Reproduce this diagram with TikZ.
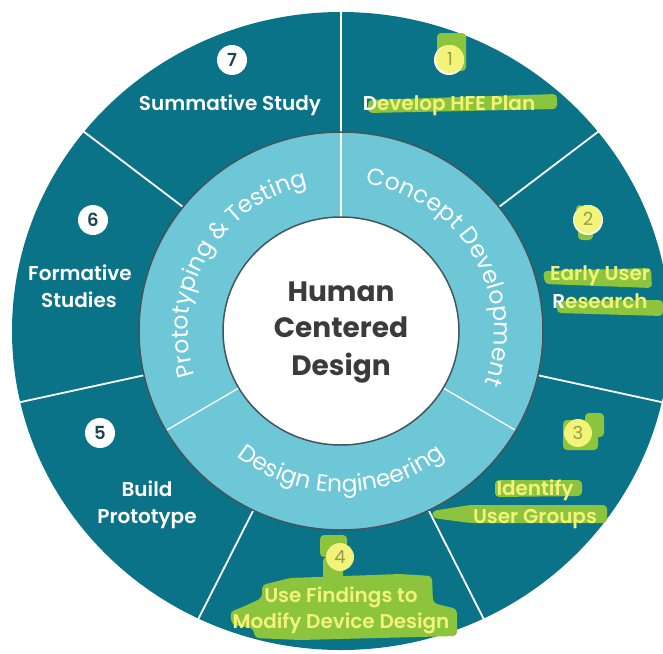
\documentclass[tikz,border=0pt]{standalone}
\usepackage{fontspec}
\usetikzlibrary{decorations.text}
\setmainfont{Poppins}
\IfFontExistsTF{Poppins SemiBold}
  {\newfontfamily\lblfont{Poppins SemiBold}}
  {\newfontfamily\lblfontfb{Poppins}\newcommand\lblfont{\lblfontfb\bfseries}}
\newfontfamily\ringfont{Poppins}[LetterSpace=12]
\newfontfamily\hubfont{Poppins}
% word gap used in the curved phase names
\newcommand\ringgap{{\kern6pt}}

\definecolor{ringdark}{HTML}{0B7387}
\definecolor{ringlight}{HTML}{6DC7D6}
\definecolor{rimgray}{HTML}{44555B}
\definecolor{hubtext}{HTML}{3B3B3B}
\definecolor{hlgreen}{HTML}{8CC43E}
\definecolor{hlyellow}{HTML}{F3F37A}
\definecolor{numdark}{HTML}{1E4450}
\definecolor{numolive}{HTML}{8E9F46}

\begin{document}
\begin{tikzpicture}[x=1pt,y=1pt,
  numdot/.style={circle, fill=white, minimum size=30pt, inner sep=0pt,
    text=numdark, font=\lblfont\fontsize{18}{18}\selectfont},
  hlnum/.style={numdot, fill=hlyellow, minimum size=28pt, text=numolive,
    font=\hubfont\fontsize{18}{18}\selectfont},
  lbl/.style={anchor=base, inner sep=0pt, text=white,
    font=\lblfont\fontsize{20}{20}\selectfont},
  hllbl/.style={lbl, text=hlyellow},
  hub/.style={anchor=base, inner sep=0pt, text=hubtext,
    font=\hubfont\bfseries\fontsize{28}{28}\selectfont},
  marker/.style={fill=hlgreen, rounded corners=4pt},
  ringtext/.style={decorate, decoration={text along path, text align=center,
    text={|\ringfont\fontsize{23.5}{23.5}\selectfont\color{white}|#1}}}
]
\useasboundingbox (0,0) rectangle (663,-653);
\clip (0,0) rectangle (663,-653);

% ---- wheel ----
\begin{scope}[shift={(341,-331)}]
  \fill[ringdark] (0,0) ellipse[x radius=329, y radius=319];
  % seven step sectors
  \foreach \a in {90,38.571,-12.857,-64.286,-115.714,-167.143,-218.571}
    \draw[white, line width=1.8pt] (\a:200 and 197) -- (\a:345 and 335);
  % phase ring
  \fill[ringlight] (0,0) ellipse[x radius=202, y radius=199];
  \foreach \a in {90,-30,210}
    \draw[white, line width=1.3pt] (\a:116 and 112) -- (\a:201 and 198);
  \draw[rimgray, line width=1.5pt] (0,0) ellipse[x radius=202, y radius=199];
  % hub
  \fill[white] (0,0) ellipse[x radius=118, y radius=114];
  \draw[rimgray, line width=1.5pt] (0,0) ellipse[x radius=118, y radius=114];
  % phase names
  \path[ringtext={Prototyping\ringgap{\&}\ringgap Testing}]
    (209:153 and 149) arc[start angle=209, end angle=91, x radius=153, y radius=149];
  \path[ringtext={Concept\ringgap Development}]
    (89:153 and 149) arc[start angle=89, end angle=-29, x radius=153, y radius=149];
  \path[ringtext={Design\ringgap Engineering}]
    (212:165 and 161) arc[start angle=212, end angle=328, x radius=165, y radius=161];
\end{scope}

% ---- hub title ----
\node[hub] (hubA) at (341,-301) {Human};
\node[hub] (hubB) at (341,-337) {Centered};
\node[hub] (hubC) at (341,-375) {Design};

% ---- marker strokes ----
\fill[marker] (437,-33) rectangle (466,-71);
\fill[marker] (368,-100) -- (557,-94) -- (557,-109) -- (368,-113) -- cycle;
\fill[marker] (576,-205) -- (584,-205) -- (584,-212) -- (576,-212) -- cycle;
\fill[marker] (578,-224) -- (593,-228) -- (593,-240) -- (578,-240) -- cycle;
\fill[marker] (543,-271) -- (651,-268) -- (652,-288) -- (545,-284) -- cycle;
\fill[marker] (557,-301) -- (663,-300) -- (663,-316) -- (557,-313) -- cycle;
\fill[marker] (563,-420) rectangle (598,-450);
\fill[marker] (585,-413) rectangle (604,-437);
\fill[marker] (495,-480) -- (582,-480) -- (582,-496) -- (495,-497) -- cycle;
\fill[marker] (432,-511) -- (470,-505) -- (607,-505) -- (607,-523) -- (470,-523) -- (433,-518) -- cycle;
\fill[marker] (320,-535) rectangle (347,-557);
\fill[marker] (323,-557) rectangle (343,-582);
\fill[marker] (262,-585) -- (290,-578) -- (400,-574) -- (432,-576) -- (433,-603)
  -- (457,-609) -- (457,-636) -- (300,-640) -- (255,-638) -- (253,-628)
  -- (232,-625) -- (230,-612) -- (245,-606) -- (262,-598) -- cycle;

% ---- step numbers ----
\node[numdot] (n7) at (232,-60) {7};
\node[numdot] (n6) at (93,-220) {6};
\node[numdot] (n5) at (100,-433) {5};
\fill[white] (449,-60) circle[radius=15];
\node[hlnum] (n1) at (450,-59) {1};
\fill[white] (588,-220) circle[radius=15];
\node[hlnum] (n2) at (588,-219) {2};
\node[hlnum] (n3) at (578,-433) {3};
\node[hlnum] (n4) at (340,-557) {4};

% ---- step names ----
\node[lbl] (s7) at (230,-110) {Summative Study};
\node[hllbl] (s1) at (449,-110) {{\color{white}D}evelop HFE Plan};
\node[hllbl] (s2a) at (600,-280) {Early User};
\node[hllbl] (s2b) at (600,-308) {{\color{white}R}esearch};
\node[hllbl] (s3a) at (535,-495) {Identify};
\node[hllbl] (s3b) at (535,-523) {User Groups};
\node[hllbl] (s4a) at (341,-602) {Use Findings to};
\node[hllbl] (s4b) at (341,-628) {Modify Device Design};
\node[lbl] (s5a) at (147,-496) {Build};
\node[lbl] (s5b) at (147,-523) {Prototype};
\node[lbl] (s6a) at (80,-280) {Formative};
\node[lbl] (s6b) at (79,-307) {Studies};
\end{tikzpicture}
\end{document}
